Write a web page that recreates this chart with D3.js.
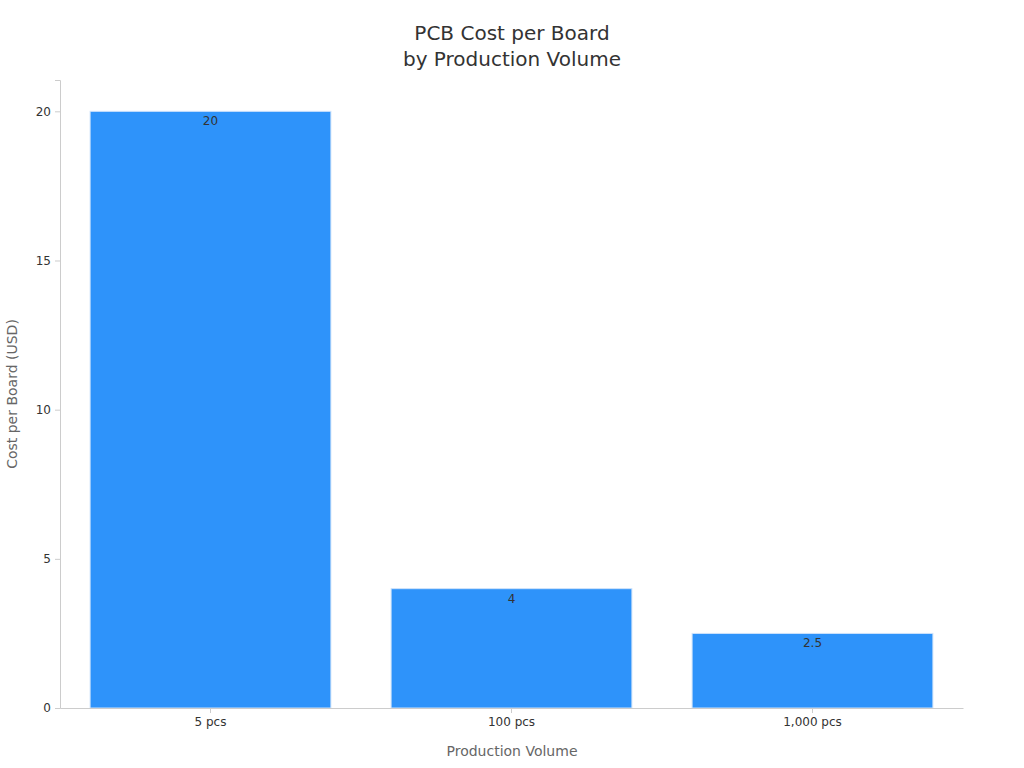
<!DOCTYPE html>
<html><head><meta charset="utf-8">
<script src="https://cdn.jsdelivr.net/npm/d3@7"></script>
<style>body{margin:0;background:#fff;font-family:"DejaVu Sans",sans-serif}</style>
</head><body><svg id="c" width="1024" height="768"></svg>
<script>
var categories = ["5 pcs", "100 pcs", "1,000 pcs"];
var costs = [20, 4, 2.5];
var yTicks = [0, 5, 10, 15, 20];

var svg = d3.select("#c");
var m = {left: 60, right: 61, top: 80, bottom: 60};
var W = 1024, H = 768;

var x = d3.scaleBand().domain(categories).range([m.left, W - m.right])
    .paddingInner(0.2).paddingOuter(0.1);
var y = d3.scaleLinear().domain([0, 21.05]).range([H - m.bottom, m.top]);

svg.append("text").attr("x", 512).attr("y", 40).attr("text-anchor", "middle")
    .attr("font-size", 20).attr("fill", "#333").text("PCB Cost per Board");
svg.append("text").attr("x", 512).attr("y", 66).attr("text-anchor", "middle")
    .attr("font-size", 20).attr("fill", "#333").text("by Production Volume");

svg.selectAll("rect.bar").data(costs).enter().append("rect")
    .attr("class", "bar")
    .attr("x", function(d, i) { return x(categories[i]); })
    .attr("width", x.bandwidth())
    .attr("y", function(d) { return y(d); })
    .attr("height", function(d) { return y(0) - y(d); })
    .attr("fill", "#2e93fa").attr("stroke", "#cfe3fb").attr("stroke-width", 1);

svg.selectAll("text.val").data(costs).enter().append("text")
    .attr("x", function(d, i) { return x(categories[i]) + x.bandwidth() / 2; })
    .attr("y", function(d) { return y(d) + 14; })
    .attr("text-anchor", "middle").attr("font-size", 12).attr("fill", "#333")
    .text(function(d) { return d; });

var ya = svg.append("g").attr("transform", "translate(" + m.left + ",0)")
    .call(d3.axisLeft(y).tickValues(yTicks).tickSize(5).tickPadding(4));
var xa = svg.append("g").attr("transform", "translate(0," + (H - m.bottom) + ")")
    .call(d3.axisBottom(x).tickSize(5).tickPadding(4).tickSizeOuter(0));
[ya, xa].forEach(function(a) {
    a.selectAll("path,line").attr("stroke", "#ccc");
    a.selectAll("text").attr("font-size", 12).attr("fill", "#333")
        .attr("font-family", "DejaVu Sans");
});

svg.append("text").attr("x", 512).attr("y", 756).attr("text-anchor", "middle")
    .attr("font-size", 14).attr("fill", "#666").text("Production Volume");
svg.append("text").attr("transform", "translate(17,394) rotate(-90)")
    .attr("text-anchor", "middle").attr("font-size", 14).attr("fill", "#666")
    .text("Cost per Board (USD)");
</script></body></html>
